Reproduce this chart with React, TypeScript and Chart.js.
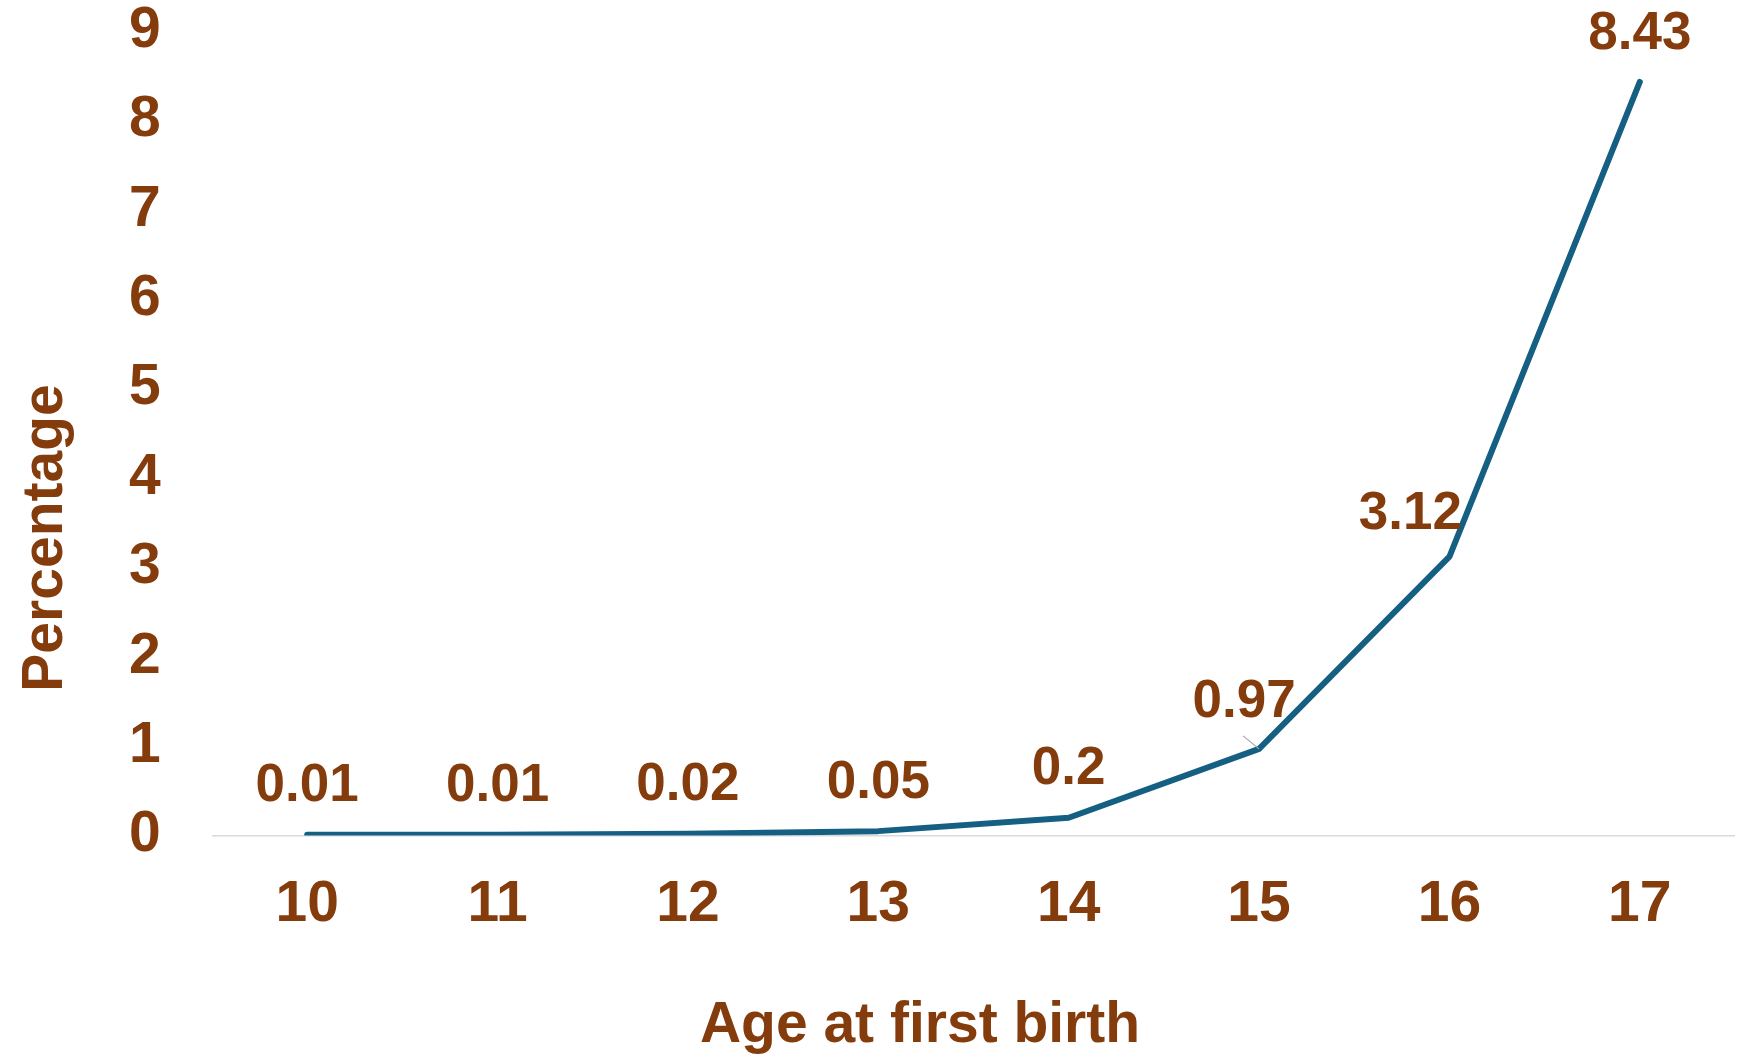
import React, { useEffect, useRef } from "react";
import { Chart, registerables } from "chart.js";

Chart.register(...registerables);

const categories: string[] = ["10", "11", "12", "13", "14", "15", "16", "17"];
const percentages: number[] = [0.01, 0.01, 0.02, 0.05, 0.2, 0.97, 3.12, 8.43];
const yTickValues: number[] = [0, 1, 2, 3, 4, 5, 6, 7, 8, 9];
const xTitle = "Age at first birth";
const yTitle = "Percentage";

const BROWN = "#843C0C";
const LINE = "#156082";
const FONT = "'Liberation Sans', Arial, sans-serif";

const labelPlugin = {
  id: "pointLabels",
  afterDatasetsDraw(chart: any) {
    const ctx = chart.ctx;
    const meta = chart.getDatasetMeta(0);
    const ds = chart.data.datasets[0];
    ctx.save();
    ctx.font = `bold 53px ${FONT}`;
    ctx.fillStyle = BROWN;
    ctx.textAlign = "center";
    ctx.textBaseline = "middle";
    meta.data.forEach((pt: any, i: number) => {
      let dx = 0;
      let dy = -48;
      if (i === 6) {
        dx = -39;
        dy = -42;
      } else if (i === 5) {
        dx = -15;
        dy = -46;
        ctx.save();
        ctx.strokeStyle = "#A6A6A6";
        ctx.lineWidth = 1.2;
        ctx.beginPath();
        ctx.moveTo(pt.x - 16, pt.y - 13);
        ctx.lineTo(pt.x, pt.y);
        ctx.stroke();
        ctx.restore();
      }
      ctx.fillText(String(ds.data[i]), pt.x + dx, pt.y + dy);
    });
    ctx.restore();
  },
};

const titlePlugin = {
  id: "axisTitles",
  afterDraw(chart: any) {
    const ctx = chart.ctx;
    ctx.save();
    ctx.font = `bold 57px ${FONT}`;
    ctx.fillStyle = BROWN;
    ctx.textAlign = "center";
    ctx.textBaseline = "alphabetic";
    ctx.fillText(xTitle, 920, 1042);
    ctx.translate(62, 538);
    ctx.rotate(-Math.PI / 2);
    ctx.fillText(yTitle, 0, 0);
    ctx.restore();
  },
};

export default function App() {
  const canvasRef = useRef<HTMLCanvasElement | null>(null);

  useEffect(() => {
    if (!canvasRef.current) return;
    const chart = new Chart(canvasRef.current, {
      type: "line",
      data: {
        labels: categories,
        datasets: [
          {
            data: percentages,
            borderColor: LINE,
            borderWidth: 6,
            borderCapStyle: "round",
            borderJoinStyle: "round",
            pointRadius: 0,
            pointHoverRadius: 0,
            fill: false,
            tension: 0,
          },
        ],
      },
      options: {
        animation: false,
        responsive: false,
        maintainAspectRatio: false,
        events: [],
        layout: { autoPadding: false, padding: { left: 129, right: 3, top: 31, bottom: 82 } },
        plugins: {
          legend: { display: false },
          tooltip: { enabled: false },
          title: { display: false },
        },
        scales: {
          x: {
            type: "category",
            offset: true,
            grid: { display: false, drawTicks: false },
            border: { display: false },
            ticks: {
              color: BROWN,
              font: { family: FONT, size: 57, weight: "bold", lineHeight: 1.2 },
              padding: 35,
              maxRotation: 0,
              autoSkip: false,
            },
          },
          y: {
            type: "linear",
            min: 0,
            max: 9,
            afterBuildTicks: (scale: any) => {
              scale.ticks = yTickValues.map((v) => ({ value: v }));
            },
            afterFit: (scale: any) => {
              scale.width = 83;
            },
            grid: {
              drawTicks: false,
              color: (c: any) => (c.tick && c.tick.value === 0 ? "#D9D9D9" : "rgba(0,0,0,0)"),
              lineWidth: 1.5,
            },
            border: { display: false },
            ticks: {
              color: BROWN,
              font: { family: FONT, size: 57, weight: "bold", lineHeight: 1.0 },
              padding: 0,
              crossAlign: "far",
            },
          },
        },
      },
      plugins: [labelPlugin, titlePlugin],
    });
    return () => chart.destroy();
  }, []);

  return (
    <div style={{ position: "fixed", left: 0, top: 0, width: 1738, height: 1056, background: "#fff" }}>
      <canvas ref={canvasRef} width={1738} height={1056} style={{ width: 1738, height: 1056 }} />
    </div>
  );
}
